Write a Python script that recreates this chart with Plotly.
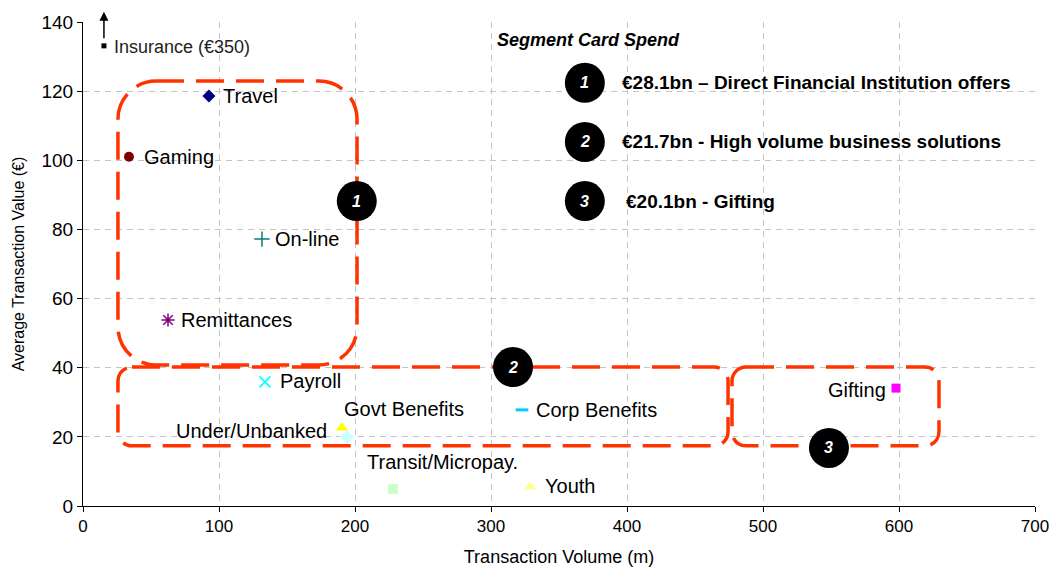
import plotly.graph_objects as go

# Card segments: transaction volume (m) vs average transaction value (EUR)
segments = ["Travel", "Gaming", "On-line", "Remittances", "Payroll",
            "Govt Benefits", "Under/Unbanked", "Corp Benefits",
            "Transit/Micropay.", "Youth", "Gifting"]
volume = [92.6, 33.8, 131.6, 62.5, 133.8, 190.4, 194.1, 322.8, 227.9, 328.7, 597.8]
avg_value = [118.6, 101.0, 77.2, 53.8, 35.9, 22.6, 20.0, 27.8, 4.9, 5.5, 34.1]

# Insurance sits off the scale (EUR 350) and is drawn at the top edge with an arrow
insurance_label = "Insurance (€350)"
insurance_volume = 15.4
insurance_value = 133.1

spend_title = "Segment Card Spend"
spend_notes = ["€28.1bn – Direct Financial Institution offers",
               "€21.7bn - High volume business solutions",
               "€20.1bn - Gifting"]
group_ids = ["1", "2", "3"]

x_ticks = [0, 100, 200, 300, 400, 500, 600, 700]
y_ticks = [0, 20, 40, 60, 80, 100, 120, 140]

# ---- styling -------------------------------------------------------------
W, H = 1050, 567
M = dict(l=83, r=15, t=22, b=61)
X_RANGE = [0, 700]
Y_RANGE = [0, 140]
px_per_x = (W - M["l"] - M["r"]) / (X_RANGE[1] - X_RANGE[0])
px_per_y = (H - M["t"] - M["b"]) / (Y_RANGE[1] - Y_RANGE[0])

symbols = ["diamond", "circle", "cross-thin", "asterisk", "x-thin",
           "triangle-up", "diamond", "line-ew", "square", "triangle-up", "square"]
colors = ["#000080", "#800000", "#008080", "#800080", "#00FFFF",
          "#FFFF00", "#CCFFFF", "#00CCFF", "#CCFFCC", "#FFFF99", "#FF00FF"]
sizes = [10, 10, 11, 11, 11, 11, 11, 9, 10, 11, 9]
line_w = [0, 0, 1.5, 1.5, 1.5, 0, 0, 3, 0, 0, 0]
# label placement: (xanchor, xshift px, yshift px)
label_pos = [("left", 12, 0), ("left", 13, 0), ("left", 11, 0), ("left", 11, 0),
             ("left", 13, 1), ("left", 0, 19), ("right", -18, 6), ("left", 12, 0),
             ("left", -28, 27), ("left", 13, 1), ("right", -8, -2)]

ORANGE = "#FF3300"
FONT = "Arial, Liberation Sans, sans-serif"

fig = go.Figure()

fig.add_trace(go.Scatter(
    x=volume, y=avg_value, mode="markers", hoverinfo="text", text=segments,
    marker=dict(symbol=symbols, color=colors, size=sizes, opacity=1,
                line=dict(color=colors, width=line_w)),
    showlegend=False, cliponaxis=False,
))
fig.add_trace(go.Scatter(
    x=[insurance_volume], y=[insurance_value], mode="markers",
    marker=dict(symbol="square", color="black", size=5, opacity=1),
    showlegend=False, cliponaxis=False, hoverinfo="skip",
))

for name, xv, yv, (anc, xs, ys) in zip(segments, volume, avg_value, label_pos):
    fig.add_annotation(x=xv, y=yv, text=name, showarrow=False, xanchor=anc,
                       yanchor="middle", xshift=xs, yshift=ys,
                       font=dict(family=FONT, size=20, color="black"))

# Insurance marker label and upward arrow
fig.add_annotation(x=insurance_volume, y=insurance_value, text=insurance_label,
                   showarrow=False, xanchor="left", xshift=8, yshift=-1,
                   font=dict(family=FONT, size=18, color="#222222"))
fig.add_annotation(x=insurance_volume, y=143.0, ax=insurance_volume, ay=134.9,
                   axref="x", ayref="y", xref="x", yref="y", text="",
                   showarrow=True, arrowhead=2, arrowsize=1.2, arrowwidth=1.5,
                   arrowcolor="black")


def rounded_box(x0, y0, x1, y1, r_px):
    """SVG path of a rounded rectangle in data units, circular corners of r_px pixels."""
    rx = r_px / px_per_x
    ry = r_px / px_per_y
    k = 0.5523  # cubic Bezier approximation of a quarter circle
    cx, cy = rx * k, ry * k
    return (f"M {x0 + rx},{y1} L {x1 - rx},{y1} "
            f"C {x1 - rx + cx},{y1} {x1},{y1 - ry + cy} {x1},{y1 - ry} "
            f"L {x1},{y0 + ry} "
            f"C {x1},{y0 + ry - cy} {x1 - rx + cx},{y0} {x1 - rx},{y0} "
            f"L {x0 + rx},{y0} "
            f"C {x0 + rx - cx},{y0} {x0},{y0 + ry - cy} {x0},{y0 + ry} "
            f"L {x0},{y1 - ry} "
            f"C {x0},{y1 - ry + cy} {x0 + rx - cx},{y1} {x0 + rx},{y1} Z")


# segment groupings
groups = [
    (25.7, 40.8, 201.5, 122.9, 38),
    (25.7, 17.4, 474.3, 40.2, 14),
    (477.2, 17.4, 629.4, 40.2, 14),
]
for gx0, gy0, gx1, gy1, rad in groups:
    fig.add_shape(type="path", path=rounded_box(gx0, gy0, gx1, gy1, rad),
                  xref="x", yref="y", line=dict(color=ORANGE, width=3.5, dash="28px,12px"),
                  fillcolor="rgba(0,0,0,0)", layer="above")

# numbered badges: on the groups, then next to the spend notes
badge_x = [201.3, 316.2, 548.5, 369.0, 369.0, 369.0]
badge_y = [88.2, 40.2, 16.8, 122.4, 105.3, 88.2]
badge_num = group_ids + group_ids
R = 20
for bx, by, bn in zip(badge_x, badge_y, badge_num):
    fig.add_shape(type="circle", xref="x", yref="y", xsizemode="pixel", ysizemode="pixel",
                  xanchor=bx, yanchor=by, x0=-R, x1=R, y0=-R, y1=R,
                  fillcolor="black", line=dict(color="black", width=0), layer="above")
    fig.add_annotation(x=bx, y=by, text=f"<b><i>{bn}</i></b>", showarrow=False,
                       font=dict(family=FONT, size=16, color="white"))

fig.add_annotation(x=372, y=134.8, text=f"<b><i>{spend_title}</i></b>", showarrow=False,
                   font=dict(family=FONT, size=18, color="black"))
note_x = [394.9, 394.9, 397.8]
for nx, ny, note in zip(note_x, badge_y[3:], spend_notes):
    fig.add_annotation(x=nx, y=ny, text=f"<b>{note}</b>", showarrow=False,
                       xanchor="left", font=dict(family=FONT, size=19, color="black"))

axis_common = dict(
    showline=True, linecolor="black", linewidth=1, mirror=False,
    ticks="outside", ticklen=5, tickcolor="black", tickwidth=1,
    showgrid=True, gridcolor="#C4C4C4", gridwidth=1, griddash="6px,5px",
    zeroline=False, automargin=False,
)
fig.update_xaxes(range=X_RANGE, tickvals=x_ticks, **axis_common,
                 tickfont=dict(family=FONT, size=17, color="black"),
                 title=dict(text="Transaction Volume (m)", standoff=18,
                            font=dict(family=FONT, size=18, color="black")))
fig.update_yaxes(range=Y_RANGE, tickvals=y_ticks, **axis_common,
                 tickfont=dict(family=FONT, size=19, color="black"),
                 title=dict(text="Average Transaction Value (€)", standoff=12,
                            font=dict(family=FONT, size=16, color="black")))

fig.update_layout(width=W, height=H, margin=M, paper_bgcolor="white",
                  plot_bgcolor="white", showlegend=False)

fig.write_html("out.html")
